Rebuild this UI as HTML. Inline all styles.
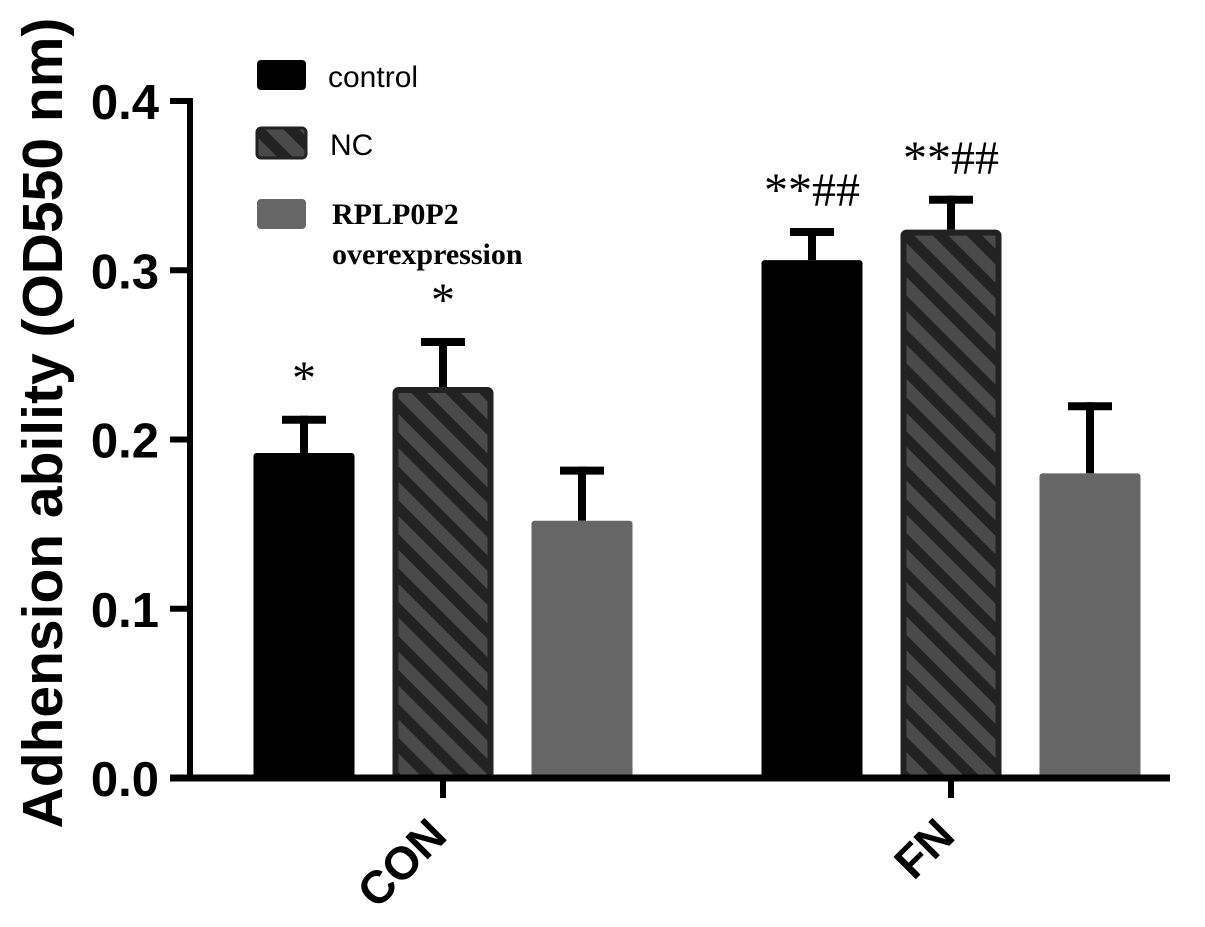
<!DOCTYPE html>
<html><head><meta charset="utf-8"><style>
html,body{margin:0;padding:0;background:#fff;}
svg{display:block;}
</style></head><body>
<svg id="chart" width="1205" height="927" viewBox="0 0 1205 927" xmlns="http://www.w3.org/2000/svg">
<defs>
<pattern id="hatch" patternUnits="userSpaceOnUse" width="24" height="24" patternTransform="rotate(45)">
<rect width="24" height="24" fill="#4a4a4a"/>
<rect x="0" y="0" width="24" height="11" fill="#222"/>
</pattern>
</defs>
<g id="plot"></g>
</svg>
<script>
const categories = ["CON", "FN"];
const seriesNames = ["control", "NC", "RPLP0P2 overexpression"];
const controlValues = [0.192, 0.306];
const ncValues = [0.231, 0.324];
const rplpValues = [0.152, 0.180];
const controlErr = [0.022, 0.019];
const ncErr = [0.029, 0.020];
const rplpErr = [0.032, 0.042];
const sigLabels = [["*", "*", ""], ["**##", "**##", ""]];
const yTicks = [0.0, 0.1, 0.2, 0.3, 0.4];
const yTickLabels = ["0.0", "0.1", "0.2", "0.3", "0.4"];

const NS = "http://www.w3.org/2000/svg";
const g = document.getElementById("plot");
const X0 = 190, X1 = 1170, Y0 = 778, YTOP = 101;
const yScale = v => Y0 - (v / 0.4) * (Y0 - YTOP);
const groupCenter = [443, 951];
const barW = 101, barOffsets = [-139, 0, 139];
function mk(tag, attrs, text) {
  const e = document.createElementNS(NS, tag);
  for (const k in attrs) e.setAttribute(k, attrs[k]);
  if (text !== undefined) e.textContent = text;
  g.appendChild(e);
  return e;
}
const vals = [controlValues, ncValues, rplpValues];
const errs = [controlErr, ncErr, rplpErr];
const fills = ["#000", "url(#hatch)", "#666"];
categories.forEach((c, ci) => {
  for (let s = 0; s < 3; s++) {
    const cx = groupCenter[ci] + barOffsets[s];
    const top = yScale(vals[s][ci]);
    const capY = yScale(vals[s][ci] + errs[s][ci]);
    const eb = mk("line", {x1: cx, x2: cx, y1: top, y2: capY, stroke: "#000", "stroke-width": 8});
    
    
    const cap = mk("line", {x1: cx - 22, x2: cx + 22, y1: capY + 4, y2: capY + 4, stroke: "#000", "stroke-width": 8});
    
    
    const attrs = {x: cx - barW / 2, y: top, width: barW, height: Y0 - top, fill: fills[s], rx: 3};
    if (s === 1) { attrs.stroke = "#222"; attrs["stroke-width"] = 6; attrs.x += 3; attrs.width -= 6; attrs.y += 3; attrs.height -= 3; }
    const r = mk("rect", attrs);
    
    
    if (sigLabels[ci][s]) {
      const t = mk("text", {x: cx, y: capY - 22, "text-anchor": "middle", "font-family": "Liberation Serif, serif", "font-size": 48, fill: "#000"}, sigLabels[ci][s]);
      
      
    }
  }
  const tk = mk("line", {x1: groupCenter[ci], x2: groupCenter[ci], y1: Y0, y2: 798, stroke: "#000", "stroke-width": 6});
  
  
  const lx = groupCenter[ci] + 6, ly = 838;
  const lt = mk("text", {x: lx, y: ly, "text-anchor": "end", "font-family": "Liberation Sans, sans-serif", "font-weight": "bold", "font-size": 46, fill: "#000", transform: `rotate(-45 ${lx} ${ly})`}, c);
  
  
});
const ya = mk("line", {x1: X0, x2: X0, y1: YTOP - 3, y2: Y0 + 3, stroke: "#000", "stroke-width": 6});


const xa = mk("line", {x1: 170, x2: X1, y1: Y0, y2: Y0, stroke: "#000", "stroke-width": 7});


yTicks.forEach((v, i) => {
  const y = yScale(v);
  const t = mk("line", {x1: 170, x2: X0, y1: y, y2: y, stroke: "#000", "stroke-width": 6});
  
  
  const l = mk("text", {x: 159, y: y + 18, "text-anchor": "end", "font-family": "Liberation Sans, sans-serif", "font-weight": "bold", "font-size": 49, fill: "#000"}, yTickLabels[i]);
  
  
});
const yt = mk("text", {x: 0, y: 0, "text-anchor": "middle", "font-family": "Liberation Sans, sans-serif", "font-weight": "bold", "font-size": 57, fill: "#000", transform: "translate(62 423) rotate(-90)"}, "Adhension ability (OD550 nm)");


const legY = [60, 128, 199];
const legFills = ["#000", "url(#hatch)", "#666"];
legY.forEach((y, i) => {
  const r = mk("rect", {x: 257, y: y, width: 49, height: 30, rx: 4, fill: legFills[i], stroke: i === 1 ? "#222" : "none", "stroke-width": 3});
  
  
});
const l1 = mk("text", {x: 328, y: 87, "font-family": "Liberation Sans, sans-serif", "font-size": 30, fill: "#000"}, seriesNames[0]);


const l2 = mk("text", {x: 330, y: 155, "font-family": "Liberation Sans, sans-serif", "font-size": 30, fill: "#000"}, seriesNames[1]);


const l3 = mk("text", {x: 332, y: 224, "font-family": "Liberation Serif, serif", "font-weight": "bold", "font-size": 30, fill: "#000"}, "RPLP0P2");


const l4 = mk("text", {x: 332, y: 264, "font-family": "Liberation Serif, serif", "font-weight": "bold", "font-size": 30, fill: "#000"}, "overexpression");


</script>
</body></html>
